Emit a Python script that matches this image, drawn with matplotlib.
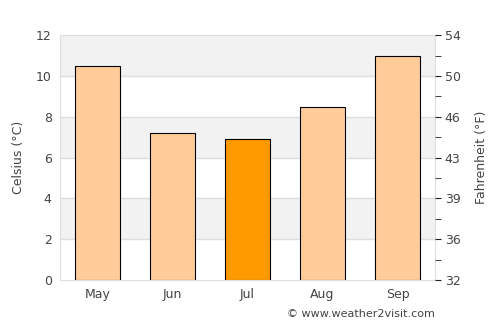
import matplotlib
matplotlib.use("Agg")
import matplotlib.pyplot as plt

months = ["May", "Jun", "Jul", "Aug", "Sep"]
celsius = [10.5, 7.2, 6.9, 8.5, 11.0]
highlight = "Jul"
c_ticks = [0, 2, 4, 6, 8, 10, 12]
f_labels = ["32", "36", "39", "43", "46", "50", "54"]

txt = "#444444"
fig = plt.figure(figsize=(5, 3.25), dpi=100)
ax = fig.add_axes([0.12, 0.138, 0.75, 0.754])

for lo in [2, 6, 10]:
    ax.axhspan(lo, lo + 2, color="#f2f2f2", zorder=0, lw=0)
for y in c_ticks[1:-1]:
    ax.axhline(y, color="#dddddd", lw=1, zorder=0.5)

colors = ["#ff9900" if m == highlight else "#ffcc99" for m in months]
ax.bar(range(len(months)), celsius, width=0.6, color=colors, edgecolor="black", lw=0.8, zorder=2)
ax.set_xlim(-0.5, len(months) - 0.5)
ax.set_ylim(0, 12)
ax.set_xticks(range(len(months)))
ax.set_xticklabels(months)
ax.set_yticks(c_ticks)
ax.tick_params(axis="both", length=0, colors=txt, labelsize=9, pad=6)
ax.set_ylabel("Celsius (°C)", color=txt, fontsize=9, labelpad=8)
for s in ax.spines.values():
    s.set_color("#dddddd")

ax2 = ax.twinx()
ax2.set_ylim(0, 12)
ax2.set_yticks(c_ticks)
ax2.set_yticklabels(f_labels)
ax2.set_yticks([1, 3, 5, 7, 9, 11], minor=True)
ax2.tick_params(axis="y", which="major", length=4, color="#222222", labelcolor=txt, labelsize=9, pad=3)
ax2.tick_params(axis="y", which="minor", length=4, color="#222222")
ax2.set_ylabel("Fahrenheit (°F)", color=txt, fontsize=9, labelpad=10)
for s in ax2.spines.values():
    s.set_visible(False)

fig.text(0.87, 0.035, "© www.weather2visit.com", ha="right", va="center", color=txt, fontsize=8)
fig.savefig("out.png", dpi=100)
